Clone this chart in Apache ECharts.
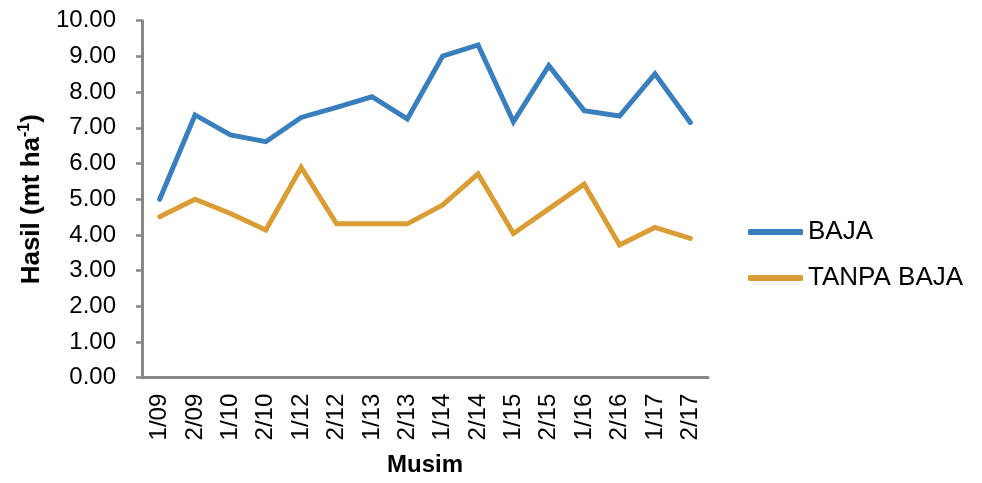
<!DOCTYPE html>
<html>
<head>
<meta charset="utf-8">
<script src="https://cdn.jsdelivr.net/npm/echarts@6/dist/echarts.min.js"></script>
<style>
html,body{margin:0;padding:0;background:#fff;}
#c{width:982px;height:483px;}
</style>
</head>
<body>
<div id="c"></div>
<script>
const categories = ['1/09','2/09','1/10','2/10','1/12','2/12','1/13','2/13','1/14','2/14','1/15','2/15','1/16','2/16','1/17','2/17'];
const baja = [5.00, 7.36, 6.80, 6.61, 7.29, 7.57, 7.87, 7.25, 9.01, 9.32, 7.17, 8.74, 7.48, 7.33, 8.51, 7.15];
const tanpaBaja = [4.51, 5.00, 4.60, 4.14, 5.89, 4.31, 4.31, 4.31, 4.84, 5.71, 4.04, 4.73, 5.42, 3.72, 4.21, 3.90];
const seriesNames = ['BAJA', 'TANPA BAJA'];

const chart = echarts.init(document.getElementById('c'), null, {renderer: 'canvas'});
const font = 'Liberation Sans, Arial, sans-serif';
const axisGray = '#878787';
chart.setOption({
  animation: false,
  backgroundColor: '#ffffff',
  textStyle: {fontFamily: font},
  grid: {left: 142, right: 274, top: 20.7, bottom: 105.3, containLabel: false},
  legend: {
    orient: 'vertical', left: 748, top: 219, itemGap: 20, padding: 0,
    itemWidth: 55, itemHeight: 6, icon: 'roundRect',
    textStyle: {fontFamily: font, fontSize: 26, color: '#000', lineHeight: 25, padding: [0,0,0,0]},
    data: seriesNames
  },
  xAxis: {
    type: 'category', data: categories, boundaryGap: true,
    name: 'Musim', nameLocation: 'middle', nameGap: 76,
    nameTextStyle: {fontFamily: font, fontSize: 24, fontWeight: 'bold', color: '#000'},
    axisLine: {lineStyle: {color: axisGray, width: 3}},
    axisTick: {show: false},
    axisLabel: {rotate: 90, margin: 16, fontSize: 24, color: '#000', fontFamily: font, interval: 0}
  },
  yAxis: {
    type: 'value', min: 0, max: 10, interval: 1,
    name: '{a|Hasil (mt ha}{s|-1}{a|)}', nameLocation: 'middle', nameGap: 94,
    nameTextStyle: {
      fontFamily: font, fontSize: 26, fontWeight: 'bold', color: '#000',
      rich: {
        a: {fontFamily: font, fontSize: 26, fontWeight: 'bold', color: '#000', lineHeight: 30},
        s: {fontFamily: font, fontSize: 16, fontWeight: 'bold', color: '#000', lineHeight: 30, verticalAlign: 'top', padding: [0,0,10,0]}
      }
    },
    axisLine: {show: true, lineStyle: {color: axisGray, width: 3}},
    axisTick: {show: true, length: 6, inside: false, lineStyle: {color: axisGray, width: 2.5}},
    splitLine: {show: false},
    axisLabel: {margin: 26, fontSize: 24, color: '#000', fontFamily: font, formatter: v => v.toFixed(2)}
  },
  series: [
    {name: seriesNames[0], type: 'line', data: baja, symbol: 'none', color: '#3A7FBD',
     lineStyle: {width: 5, color: '#3A7FBD', cap: 'round', join: 'miter'}},
    {name: seriesNames[1], type: 'line', data: tanpaBaja, symbol: 'none', color: '#DA9D35',
     lineStyle: {width: 5, color: '#DA9D35', cap: 'round', join: 'miter'}}
  ]
});
</script>
</body>
</html>
